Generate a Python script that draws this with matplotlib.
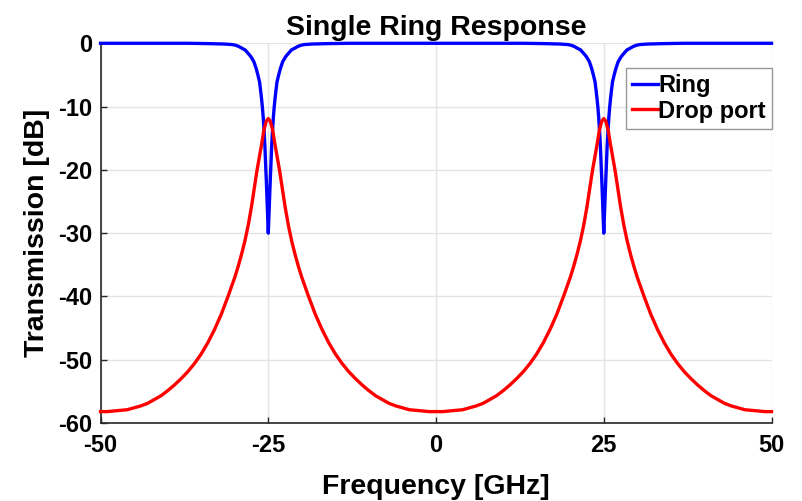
import matplotlib
matplotlib.use("Agg")
import matplotlib.pyplot as plt

# ── data ─────────────────────────────────────────────────────────────────────

# through port of the ring (blue)
FREQ_RING = [-50, -40, -37, -34, -31.5, -30.4, -29.9, -29.4, -28.9, -28.45,
             -28, -27.6, -27.15, -26.8, -26.55, -26.3, -26.15, -26, -25.87,
             -25.75, -25.62, -25.5, -25.4, -25.3, -25.15, -25,
             -24.85, -24.7, -24.6, -24.5, -24.38, -24.25, -24.13, -24, -23.85,
             -23.7, -23.45, -23.2, -22.85, -22.4, -22, -21.55, -21.1, -20.6,
             -20.1, -19.6, -18.5, -16, -13, 0,
             13, 16, 18.5, 19.6, 20.1, 20.6, 21.1, 21.55, 22, 22.4, 22.85,
             23.2, 23.45, 23.7, 23.85, 24, 24.13, 24.25, 24.38, 24.5, 24.6,
             24.7, 24.85, 25,
             25.15, 25.3, 25.4, 25.5, 25.62, 25.75, 25.87, 26, 26.15, 26.3,
             26.55, 26.8, 27.15, 27.6, 28, 28.45, 28.9, 29.4, 29.9, 30.4,
             31.5, 34, 37, 40, 50]
RING_DB = [0, 0, 0, -0.05, -0.12, -0.2, -0.3, -0.5, -0.8, -1.05,
           -1.6, -2.1, -2.9, -4.0, -5.0, -6.1, -7.4, -8.8, -10.2,
           -11.8, -14.0, -16.3, -19.0, -21.5, -25.7, -30,
           -25.7, -21.5, -19.0, -16.3, -14.0, -11.8, -10.2, -8.8, -7.4,
           -6.1, -5.0, -4.0, -2.9, -2.1, -1.6, -1.05, -0.8, -0.5,
           -0.3, -0.2, -0.12, -0.05, 0, 0,
           0, -0.05, -0.12, -0.2, -0.3, -0.5, -0.8, -1.05, -1.6, -2.1, -2.9,
           -4.0, -5.0, -6.1, -7.4, -8.8, -10.2, -11.8, -14.0, -16.3, -19.0,
           -21.5, -25.7, -30,
           -25.7, -21.5, -19.0, -16.3, -14.0, -11.8, -10.2, -8.8, -7.4, -6.1,
           -5.0, -4.0, -2.9, -2.1, -1.6, -1.05, -0.8, -0.5, -0.3, -0.2,
           -0.12, -0.05, 0, 0, 0]

# drop port (red)
FREQ_DROP = [-50, -49, -48, -47, -46, -45, -44, -43, -42, -41, -40, -39, -38,
             -37, -36, -35, -34, -33, -32, -31, -30.5, -30, -29.5, -29, -28.5,
             -28, -27.5, -27, -26.7, -26.4, -26, -25.65, -25.3, -25,
             -24.7, -24.35, -24, -23.6, -23.3, -23, -22.5, -22, -21.5, -21,
             -20.5, -20, -19.5, -19, -18, -17, -16, -15, -14, -13, -12, -11,
             -10, -9, -8, -7, -6, -5, -4, -3, -2, -1, 0,
             1, 2, 3, 4, 5, 6, 7, 8, 9, 10, 11, 12, 13, 14, 15, 16, 17, 18, 19,
             19.5, 20, 20.5, 21, 21.5, 22, 22.5, 23, 23.3, 23.6, 24, 24.35,
             24.7, 25,
             25.3, 25.65, 26, 26.4, 26.7, 27, 27.5, 28, 28.5, 29, 29.5, 30,
             30.5, 31, 32, 33, 34, 35, 36, 37, 38, 39, 40, 41, 42, 43, 44, 45,
             46, 47, 48, 49, 50]
DROP_DB = [-58.2, -58.2, -58.1, -58.0, -57.9, -57.6, -57.3, -56.9, -56.3,
           -55.7, -54.9, -54.0, -53.0, -51.9, -50.6, -49.1, -47.3, -45.2,
           -42.8, -40.0, -38.5, -37.0, -35.3, -33.4, -31.3, -28.8, -25.8,
           -22.3, -20.2, -18.4, -16.0, -13.7, -12.3, -11.9,
           -12.3, -13.7, -16.0, -18.4, -20.2, -22.3, -25.8, -28.8, -31.3,
           -33.4, -35.3, -37.0, -38.5, -40.0, -42.8, -45.2, -47.3, -49.1,
           -50.6, -51.9, -53.0, -54.0, -54.9, -55.7, -56.3, -56.9, -57.3,
           -57.6, -57.9, -58.0, -58.1, -58.2, -58.2,
           -58.2, -58.1, -58.0, -57.9, -57.6, -57.3, -56.9, -56.3, -55.7,
           -54.9, -54.0, -53.0, -51.9, -50.6, -49.1, -47.3, -45.2, -42.8,
           -40.0, -38.5, -37.0, -35.3, -33.4, -31.3, -28.8, -25.8, -22.3,
           -20.2, -18.4, -16.0, -13.7, -12.3, -11.9,
           -12.3, -13.7, -16.0, -18.4, -20.2, -22.3, -25.8, -28.8, -31.3,
           -33.4, -35.3, -37.0, -38.5, -40.0, -42.8, -45.2, -47.3, -49.1,
           -50.6, -51.9, -53.0, -54.0, -54.9, -55.7, -56.3, -56.9, -57.3,
           -57.6, -57.9, -58.0, -58.1, -58.2, -58.2]

X_TICKS = [-50, -25, 0, 25, 50]
Y_TICKS = [-60, -50, -40, -30, -20, -10, 0]

# ── style ────────────────────────────────────────────────────────────────────

RING_COLOR = "#0000FF"
DROP_COLOR = "#FF0000"
AXIS_COLOR = "#262626"
GRID_COLOR = "#E3E3E3"

plt.rcParams.update({
    "font.family":        ["Liberation Sans", "DejaVu Sans"],
    "font.weight":        "bold",
    "axes.unicode_minus": False,
})

fig = plt.figure(figsize=(8.03, 5.01), dpi=100)
ax = fig.add_axes([0.1252, 0.1557, 0.9608 - 0.1252, 0.9136 - 0.1557])

ax.plot(FREQ_RING, RING_DB, color=RING_COLOR, lw=2.4, label="Ring",
        clip_on=False, zorder=3)
ax.plot(FREQ_DROP, DROP_DB, color=DROP_COLOR, lw=2.4, label="Drop port",
        clip_on=False, zorder=4)

ax.set_xlim(-50, 50)
ax.set_ylim(-60, 0)
ax.set_xticks(X_TICKS)
ax.set_yticks(Y_TICKS)
ax.set_xticklabels([str(t) for t in X_TICKS])
ax.set_yticklabels([str(t) for t in Y_TICKS])

ax.grid(True, color=GRID_COLOR, lw=1.0, zorder=0)
ax.set_axisbelow(True)

for side in ("top", "right"):
    ax.spines[side].set_visible(False)
for side in ("left", "bottom"):
    ax.spines[side].set_color(AXIS_COLOR)
    ax.spines[side].set_linewidth(1.2)

ax.tick_params(axis="both", direction="in", length=4, width=1.0,
               colors=AXIS_COLOR, labelsize=17, labelcolor="black")
ax.tick_params(axis="x", pad=8)
ax.tick_params(axis="y", pad=6)

ax.set_title("Single Ring Response", fontsize=20.5, fontweight="bold", pad=6)
ax.set_xlabel("Frequency [GHz]", fontsize=20.5, fontweight="bold", labelpad=12)
ax.set_ylabel("Transmission [dB]", fontsize=20.5, fontweight="bold", labelpad=6)

leg = ax.legend(loc="upper right", bbox_to_anchor=(1.0, 0.935), fontsize=17,
                frameon=True, fancybox=False, handlelength=1.1,
                handletextpad=0.0, borderpad=0.25, labelspacing=0.12,
                borderaxespad=0.0)
leg.get_frame().set_edgecolor("#7F7F7F")
leg.get_frame().set_linewidth(1.0)

fig.savefig("out.png", dpi=100, facecolor="white")
